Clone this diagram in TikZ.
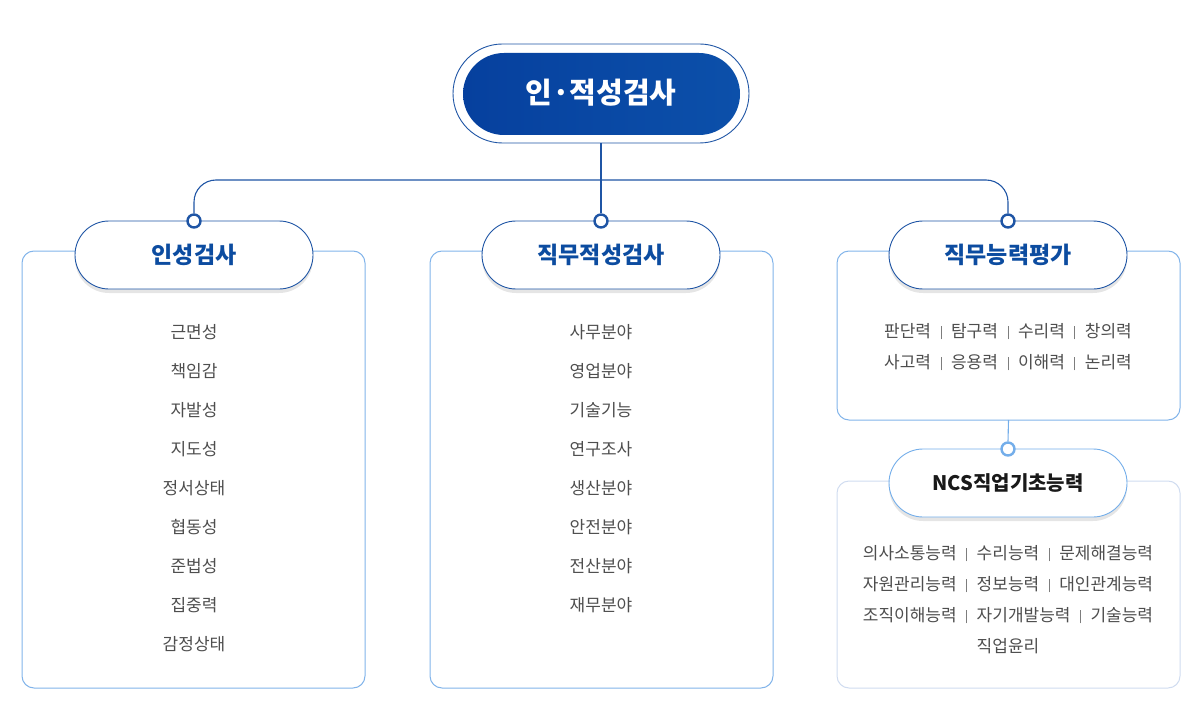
\documentclass[tikz,border=0pt]{standalone}
\usepackage{fontspec}
\setmainfont{Noto Sans CJK KR}
\usetikzlibrary{shadows}
\definecolor{lineblue}{RGB}{31,85,165}
\definecolor{headblue}{RGB}{12,76,160}
\definecolor{boxblue}{RGB}{130,180,234}
\definecolor{paleblue}{RGB}{208,220,240}
\definecolor{lightcon}{RGB}{116,174,234}
\definecolor{itemgray}{RGB}{78,78,78}
\definecolor{sepc}{RGB}{125,125,125}
\definecolor{pillA}{RGB}{6,64,158}
\definecolor{pillB}{RGB}{12,80,170}
\newcommand\sepbar{\hspace{9.5pt}\textcolor{sepc}{\rule[-1.5pt]{1pt}{13pt}}\hspace{9.5pt}}
\tikzset{
  card/.style={draw=boxblue, line width=1pt, rounded corners=12pt, fill=white},
  palecard/.style={draw=paleblue, line width=1pt, rounded corners=12pt, fill=white},
  pill/.style={draw=lineblue, line width=0.9pt, fill=white, rounded corners=34pt,
    minimum width=238pt, minimum height=68pt, inner sep=0pt,
    drop shadow={shadow xshift=0pt, shadow yshift=-4pt, opacity=0.10, fill=black},
    font=\fontsize{23}{27}\selectfont\bfseries, text=headblue},
  lightpill/.style={pill, draw=lightcon, text=black!90, font=\fontsize{20}{24}\selectfont\bfseries},
  dotnode/.style={circle, draw=lineblue, line width=2.4pt, fill=white, minimum size=13pt, inner sep=0pt},
  lightdot/.style={dotnode, draw=lightcon},
  conn/.style={draw=lineblue, line width=1.1pt},
  lightconn/.style={draw=lightcon, line width=1.1pt},
  items/.style={align=center, text=itemgray, font=\fontsize{17}{39}\selectfont},
  items2/.style={align=center, text=itemgray, font=\fontsize{17}{31}\selectfont},
}
\begin{document}
\begin{tikzpicture}[x=1pt,y=-1pt]
\useasboundingbox (0,0) rectangle (1204,722);
% top pill
\node[draw=lineblue, line width=0.9pt, fill=white, rounded corners=49.5pt,
  minimum width=296pt, minimum height=99pt, inner sep=0pt] (topouter) at (601,93.5) {};
\shade[left color=pillA, right color=pillB, rounded corners=41pt]
  (463,53) rectangle (740,135);
\node[text=white, font=\fontsize{29}{32}\selectfont\bfseries] (top) at (601,93) {인·적성검사};
% boxes
\draw[card] (22,251) rectangle (365,688);
\draw[card] (430,251) rectangle (773,688);
\draw[card] (837,251) rectangle (1180,420);
\draw[palecard] (837,481) rectangle (1180,688);
\coordinate (rbot) at (1008.5,420);
% pills
\node[pill] (p1) at (194,255) {인성검사};
\node[pill] (p2) at (601,255) {직무적성검사};
\node[pill] (p3) at (1008,255) {직무능력평가};
\node[lightpill] (p4) at (1008,483) {NCS직업기초능력};
% dots
\node[dotnode] (c1) at (194,221) {};
\node[dotnode] (c2) at (601,221) {};
\node[dotnode] (c3) at (1008,221) {};
\node[lightdot] (c4) at (1008,449) {};
% connectors
\coordinate (j) at (601,180);
\draw[conn] (topouter.south) -- (c2.north);
\draw[conn, rounded corners=22pt] (c1.north) |- (j) -| (c3.north);
\draw[lightconn] (rbot) -- (c4.north);
% texts
\node[items] (t1) at (194,488) {근면성\\책임감\\자발성\\지도성\\정서상태\\협동성\\준법성\\집중력\\감정상태};
\node[items] (t2) at (601,469) {사무분야\\영업분야\\기술기능\\연구조사\\생산분야\\안전분야\\전산분야\\재무분야};
\node[items2] (t3) at (1008,347) {판단력\sepbar 탐구력\sepbar 수리력\sepbar 창의력\\사고력\sepbar 응용력\sepbar 이해력\sepbar 논리력};
\node[items2] (t4) at (1008,600) {의사소통능력\sepbar 수리능력\sepbar 문제해결능력\\자원관리능력\sepbar 정보능력\sepbar 대인관계능력\\조직이해능력\sepbar 자기개발능력\sepbar 기술능력\\직업윤리};
\end{tikzpicture}
\end{document}
